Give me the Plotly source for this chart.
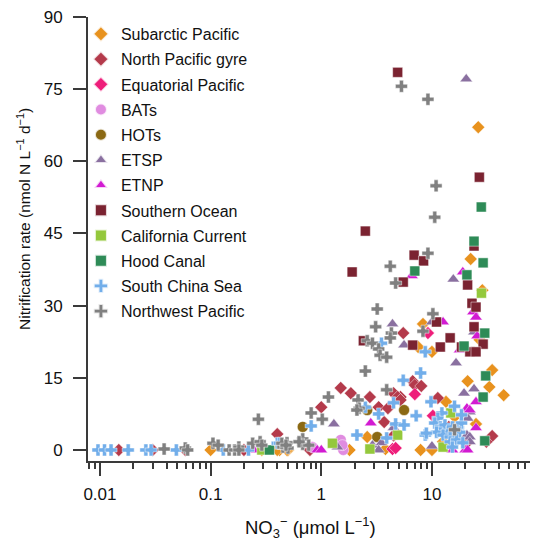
import plotly.graph_objects as go

# ---------------- data (NO3- in umol/L, rate in nmol N/L/d) ----------------
subarctic_x = [26.2, 22.4, 28.5, 8.3, 27, 7.5, 10, 35, 21, 33, 44.5, 13.4, 16, 25, 12.6, 7.9, 10,
               2.6, 3.8, 1.8, 0.42, 0.5, 0.1, 0.29, 0.4, 0.49]
subarctic_y = [67.1, 39.7, 33.2, 26.2, 22.9, 21.4, 20.4, 16.6, 14.3, 13.1, 11.4, 10.0, 6.9, 5.4, 1.7, 0, 0,
               2.7, 0.2, 0, 0, 0, 0, 0, 0, 0]

npg_x = [5.5, 6.7, 7, 8, 5.2, 11.3, 14.2, 35, 31, 20.7, 1.5, 1.85, 2.75, 4.5, 4.9, 5.2, 1.0, 3.3, 4,
         3.7, 4.5, 0.4, 0.79, 0.059, 0.2, 0.0148, 0.03]
npg_y = [24.3, 14.3, 13.5, 13.3, 11.0, 10.8, 4.8, 2.9, 1.7, 1.5, 12.9, 11.8, 11.0, 11.8, 11.0, 10.4, 8.9, 8.9, 8.7,
         5.8, 3.0, 3.3, 0, 0, 0, 0, 0]

equatorial_x = [9.2, 7, 10.2, 4.4, 4.7]
equatorial_y = [24.3, 11.6, 7.1, 0.2, 0.4]

bats_x = [1.5, 1.58, 1.55, 0.83]
bats_y = [2.1, 0, 1.0, 0.6]

hots_x = [0.68, 2.6, 5.6, 3.2]
hots_y = [4.8, 8.3, 8.3, 2.7]

etsp_x = [20.4, 15.6, 10, 24, 5.6, 16.5, 24, 19.5, 4.4, 1.3, 4.5, 2.9, 3.5, 3.3, 1.4, 10,
          20, 22, 21, 20.7, 22, 22]
etsp_y = [77.1, 35.5, 26.6, 24.5, 21.8, 18.1, 12.7, 11.8, 26.2, 5.4, 4.6, 1.0, 1.5, 0, 0.6, 0.8,
          7.3, 7.9, 6.6, 3.1, 2.7, 1.7]

etnp_x = [6.6, 19, 23.5, 25, 12.6, 25.6, 17.8, 25, 20.7, 22, 25, 2.8, 0.92, 1.0, 0.245, 15.3, 20, 21]
etnp_y = [36.2, 37.0, 28.7, 27.6, 26.6, 23.7, 20.8, 10.0, 8.7, 8.3, 4.6, 5.6, 0, 0, 0, 0, 0, 0]

southern_x = [4.9, 26.8, 2.5, 24, 6.9, 8.4, 1.9, 5.5, 21, 23, 25, 11, 24, 29, 14.6, 11.9, 18.5, 22, 25,
              6.7, 2.4]
southern_y = [78.5, 56.7, 45.5, 42.4, 40.5, 39.3, 37.0, 34.9, 34.3, 30.5, 29.7, 26.6, 25.6, 22.0, 23.3,
              21.4, 21.4, 20.4, 20.4, 21.8, 22.7]

california_x = [28, 14.8, 12.6, 4.9, 2.75, 1.26, 0.29]
california_y = [32.6, 7.7, 0.6, 3.1, 0.2, 1.4, 0]

hood_x = [27.9, 24, 29, 7.0, 20.7, 30, 19.5, 30.6, 29, 30, 0.34]
hood_y = [50.5, 43.4, 38.9, 37.2, 36.4, 24.3, 21.6, 15.4, 11.0, 1.9, 0]

scs_x = [3.5, 7.9, 8.7, 5.5, 9.8, 16, 7.2, 5.6, 8.7, 12.3, 11.3, 10.6, 11.9, 13.1, 13.9, 15.3, 17.3,
         18.5, 17.8, 11.0, 12.6, 14.6, 14.6, 16.7, 19, 15.3, 18.5, 8.9,
         0.81, 2.1, 3.9, 4.7, 5.6, 3.3, 4.5, 2.5,
         0.0096, 0.011, 0.0126, 0.018, 0.026, 0.029, 0.049, 0.13, 0.22, 0.4, 0.42]
scs_y = [22.2, 16.0, 20.4, 14.5, 10.0, 9.1, 7.1, 5.2, 3.1, 7.7, 6.6, 5.6, 4.8, 5.2, 3.7, 4.8, 4.6,
         5.6, 3.7, 3.7, 3.1, 2.7, 1.7, 2.1, 1.5, 0.6, 7.3, 3.5,
         5.0, 3.1, 2.5, 5.4, 5.2, 7.5, 9.8, 8.9,
         0, 0, 0, 0, 0, 0, 0, 0, 0, 1.4, 1.4]

nwp_x = [5.3, 9.2, 10.9, 10.6, 9.2, 4.2, 4.7, 10.2, 8.3, 3.2, 3.1, 4.3, 4.2, 2.6, 2.9, 3.3, 3.4, 3.9,
         2.5, 1.16, 2.15, 3.9, 2.2, 2.1, 0.81, 1.02, 16, 0.68, 0.68, 0.77, 0.49, 0.45, 0.5, 0.27,
         0.059, 0.062, 0.105, 0.117, 0.147, 0.165, 0.18, 0.18, 0.24, 0.28, 0.29, 0.44, 0.48, 0.038, 0.63]
nwp_y = [75.6, 72.9, 54.9, 48.4, 40.9, 38.2, 34.7, 28.3, 24.7, 29.3, 25.6, 24.3, 23.3, 22.7, 22.2, 21.0, 19.7, 19.3,
         16.4, 11.0, 10.4, 12.5, 8.7, 8.3, 7.7, 6.4, 4.2, 2.3, 1.2, 1.0, 1.5, 0.6, 0.4, 6.4,
         0.4, 0, 1.4, 1.0, 0, 0, 0.6, 0, 1.4, 1.7, 1.0, 1.4, 1.0, 0.2, 1.7]

y_ticks = [0, 15, 30, 45, 60, 75, 90]
x_ticks = [0.01, 0.1, 1, 10]
x_tick_labels = ["0.01", "0.1", "1", "10"]

x_title = "NO<sub>3</sub><sup>−</sup> (μmol L<sup>−1</sup>)"
y_title = "Nitrification rate (nmol N L<sup>−1</sup> d<sup>−1</sup>)"

series = [
    ("Subarctic Pacific", subarctic_x, subarctic_y, "diamond", "#E8921E", 10),
    ("North Pacific gyre", npg_x, npg_y, "diamond", "#B43A4B", 10),
    ("Equatorial Pacific", equatorial_x, equatorial_y, "diamond", "#EE1E7A", 10),
    ("BATs", bats_x, bats_y, "circle", "#E08CE0", 11),
    ("HOTs", hots_x, hots_y, "circle", "#8B6914", 11),
    ("ETSP", etsp_x, etsp_y, "triangle-up", "#8A70A0", 11),
    ("ETNP", etnp_x, etnp_y, "triangle-up", "#D21AD2", 11),
    ("Southern Ocean", southern_x, southern_y, "square", "#7B2331", 10),
    ("California Current", california_x, california_y, "square", "#94C83C", 10),
    ("Hood Canal", hood_x, hood_y, "square", "#2E8B57", 10),
    ("South China Sea", scs_x, scs_y, "cross", "#72AEEA", 10),
    ("Northwest Pacific", nwp_x, nwp_y, "cross", "#808080", 10),
]

fig = go.Figure()
for i, (name, xs, ys, sym, col, sz) in enumerate(series):
    fig.add_trace(go.Scatter(
        x=xs, y=ys, mode="markers", name=name, legendgroup=name,
        marker=dict(symbol=sym, color=col, size=sz, line=dict(width=0.6, color="rgba(255,255,255,0.8)")),
    ))

minor_vals = []
for dec in [0.001, 0.01, 0.1, 1, 10]:
    for m in range(2, 10):
        minor_vals.append(dec * m)

axis_col = "#3a3a3a"
font_family = "Liberation Sans, Arial, sans-serif"

fig.update_layout(
    width=536, height=541,
    margin=dict(l=88, r=6, t=17, b=80),
    paper_bgcolor="white", plot_bgcolor="white",
    font=dict(family=font_family, size=16, color="#111"),
    showlegend=True,
    legend=dict(x=-0.016, y=1.0, xanchor="left", yanchor="top", bgcolor="rgba(0,0,0,0)",
                font=dict(size=16, color="#111"), tracegroupgap=1.4, itemsizing="constant"),
)
fig.update_xaxes(
    type="log", range=[-2.108, 1.886],
    tickvals=x_ticks, ticktext=x_tick_labels,
    ticks="outside", ticklen=13, tickwidth=2, tickcolor=axis_col,
    showline=True, linewidth=2, linecolor=axis_col, showgrid=False, zeroline=False,
    minor=dict(tickvals=minor_vals, ticks="outside", ticklen=6, tickwidth=1.5, tickcolor=axis_col, showgrid=False),
    tickfont=dict(size=17), ticklabelstandoff=4,
    automargin=False,
)
fig.update_yaxes(
    range=[-2.29, 90], tickvals=y_ticks,
    ticks="outside", ticklen=13, tickwidth=2, tickcolor=axis_col,
    showline=True, linewidth=2, linecolor=axis_col, showgrid=False, zeroline=False,
    tickfont=dict(size=17), ticklabelstandoff=7,
    automargin=False,
)
fig.add_annotation(text=x_title, xref="paper", yref="paper", x=0.5045, y=-0.150,
                   xanchor="center", yanchor="middle", showarrow=False, font=dict(size=18.5))
fig.add_annotation(text=y_title, xref="paper", yref="paper", x=-0.145, y=0.545, textangle=-90,
                   xanchor="center", yanchor="middle", showarrow=False, font=dict(size=15.5))

fig.write_html("out.html", post_script="document.body.style.margin='0px';",
               config={"displayModeBar": False})
